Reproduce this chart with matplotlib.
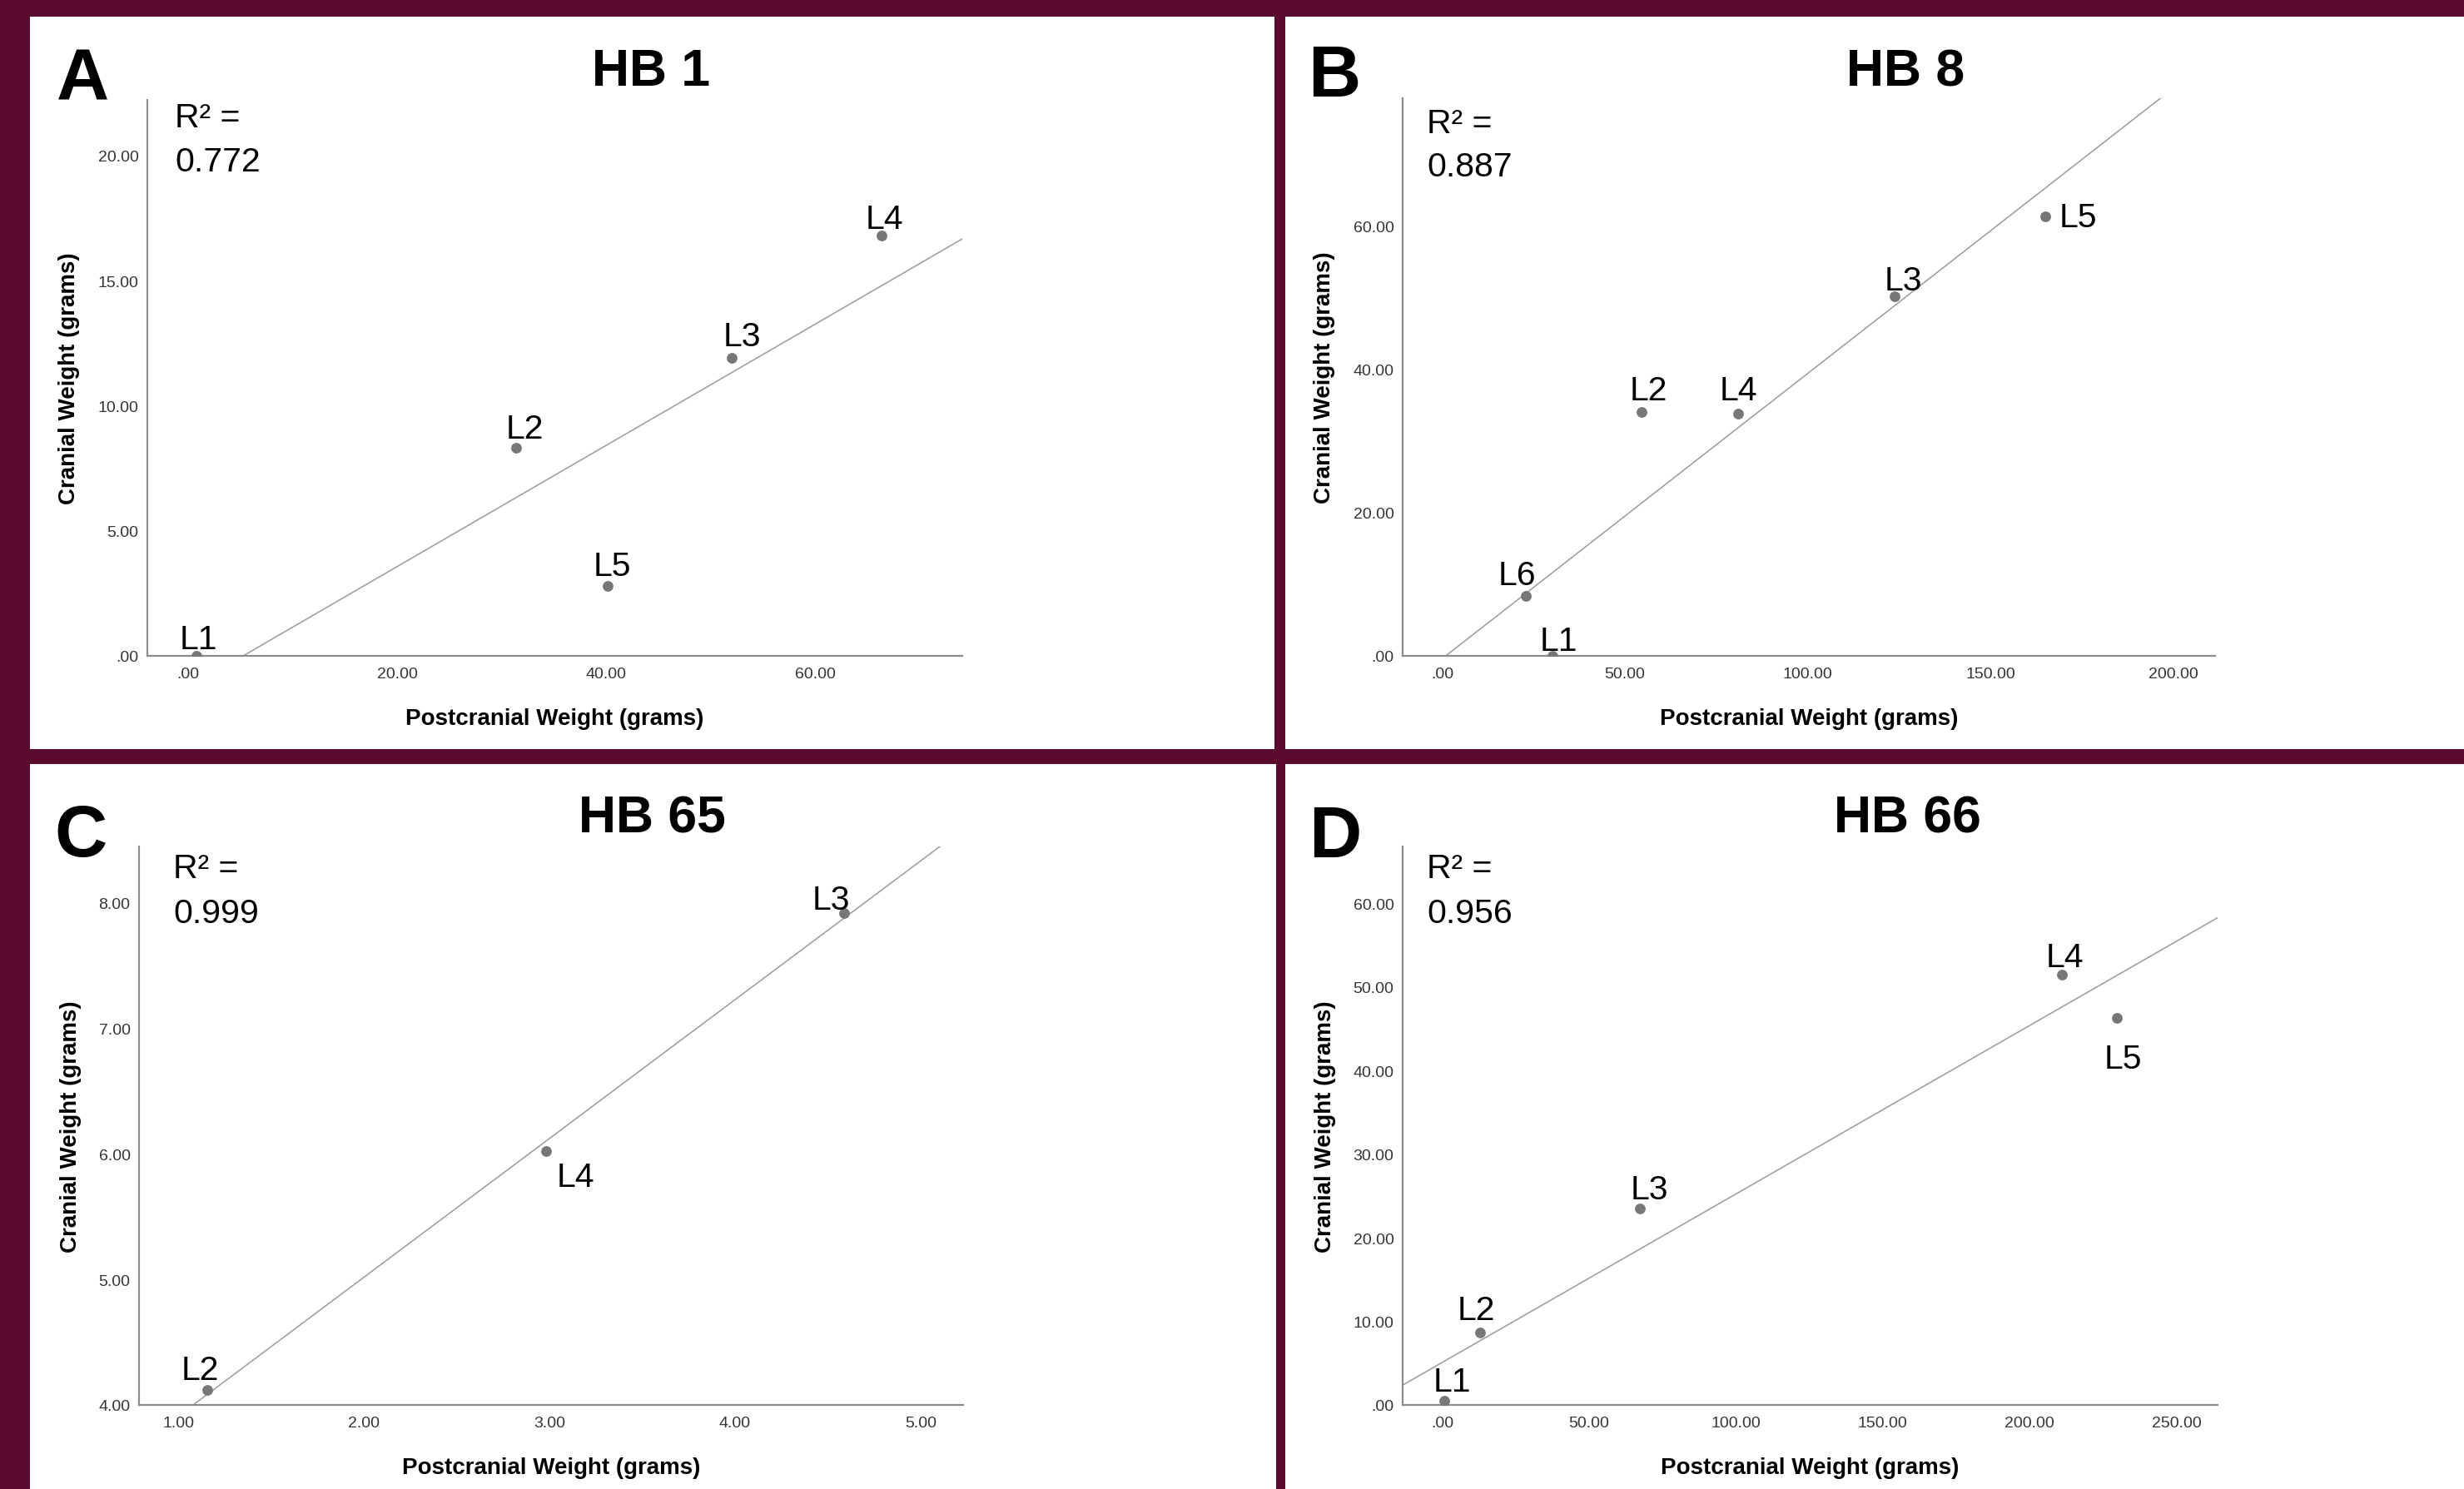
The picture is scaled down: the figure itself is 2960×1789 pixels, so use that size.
import numpy as np
import matplotlib
matplotlib.use("Agg")
import matplotlib.pyplot as plt
from matplotlib.patches import Rectangle

plt.rcParams['font.family'] = ['Liberation Sans', 'DejaVu Sans']

# ------------------------------------------------------------------ data
hb1_labels = ['L1', 'L2', 'L3', 'L4', 'L5']
hb1_post = [0.8, 31.4, 52.0, 66.3, 40.1]
hb1_cran = [0.0, 8.3, 11.9, 16.8, 2.8]
hb1_r2 = '0.772'
hb1_xticks = [0, 20, 40, 60]
hb1_xticklabels = ['.00', '20.00', '40.00', '60.00']
hb1_yticks = [0, 5, 10, 15, 20]
hb1_yticklabels = ['.00', '5.00', '10.00', '15.00', '20.00']

hb8_labels = ['L1', 'L2', 'L3', 'L4', 'L5', 'L6']
hb8_post = [30.1, 54.6, 123.8, 81.0, 164.9, 23.0]
hb8_cran = [0.0, 34.1, 50.2, 33.8, 61.4, 8.4]
hb8_r2 = '0.887'
hb8_xticks = [0, 50, 100, 150, 200]
hb8_xticklabels = ['.00', '50.00', '100.00', '150.00', '200.00']
hb8_yticks = [0, 20, 40, 60]
hb8_yticklabels = ['.00', '20.00', '40.00', '60.00']

hb65_labels = ['L2', 'L3', 'L4']
hb65_post = [1.155, 4.586, 2.98]
hb65_cran = [4.12, 7.92, 6.02]
hb65_r2 = '0.999'
hb65_xticks = [1, 2, 3, 4, 5]
hb65_xticklabels = ['1.00', '2.00', '3.00', '4.00', '5.00']
hb65_yticks = [4, 5, 6, 7, 8]
hb65_yticklabels = ['4.00', '5.00', '6.00', '7.00', '8.00']

hb66_labels = ['L1', 'L2', 'L3', 'L4', 'L5']
hb66_post = [0.6, 12.9, 67.3, 211.0, 229.6]
hb66_cran = [0.5, 8.7, 23.5, 51.5, 46.3]
hb66_r2 = '0.956'
hb66_xticks = [0, 50, 100, 150, 200, 250]
hb66_xticklabels = ['.00', '50.00', '100.00', '150.00', '200.00', '250.00']
hb66_yticks = [0, 10, 20, 30, 40, 50, 60]
hb66_yticklabels = ['.00', '10.00', '20.00', '30.00', '40.00', '50.00', '60.00']

x_title = 'Postcranial Weight (grams)'
y_title = 'Cranial Weight (grams)'

# ------------------------------------------------------------------ layout / style
W, H, DPI = 2960, 1790, 100
MAROON = '#5B0B2E'
DOT = '#777777'
LINE = '#9e9e9e'
AXIS = '#8c8c8c'
TICKC = '#353535'


def fx(x):
    return x / W


def fy(y):
    return 1 - y / H


panel_rects = [(36, 21, 1531, 901), (1544, 21, 2960, 901),
               (36, 919, 1533, 1790), (1544, 919, 2960, 1790)]

panels = [
    dict(letter='A', title='HB 1', labels=hb1_labels, x=hb1_post, y=hb1_cran, r2=hb1_r2,
         xt=hb1_xticks, xtl=hb1_xticklabels, yt=hb1_yticks, ytl=hb1_yticklabels,
         box=(177, 121, 1156, 789), xlim=(-3.9, 74.05), ylim=(0, 22.22),
         title_xy=(782, 103), letter_xy=(68, 119), r2_xy=(210, 153, 206), ylab_x=90.5,
         offs=[(2, -9, 'center'), (10, -12.5, 'center'), (12, -15.7, 'center'),
               (4, -8.7, 'center'), (6, -12.7, 'center')]),
    dict(letter='B', title='HB 8', labels=hb8_labels, x=hb8_post, y=hb8_cran, r2=hb8_r2,
         xt=hb8_xticks, xtl=hb8_xticklabels, yt=hb8_yticks, ytl=hb8_yticklabels,
         box=(1685, 119, 2661, 789), xlim=(-10.8, 211.4), ylim=(0, 77.9),
         title_xy=(2289, 103), letter_xy=(1571, 116), r2_xy=(1714, 159.6, 211.8), ylab_x=1597.5,
         offs=[(8, -6.6, 'center'), (8, -14.5, 'center'), (10, -8.7, 'center'),
               (0, -17.4, 'center'), (17, 12, 'left'), (-11, -14, 'center')]),
    dict(letter='C', title='HB 65', labels=hb65_labels, x=hb65_post, y=hb65_cran, r2=hb65_r2,
         xt=hb65_xticks, xtl=hb65_xticklabels, yt=hb65_yticks, ytl=hb65_yticklabels,
         box=(167, 1018, 1157, 1689), xlim=(0.789, 5.229), ylim=(4.0, 8.45),
         title_xy=(783, 1001), letter_xy=(65, 1029), r2_xy=(208, 1055, 1109), ylab_x=92,
         offs=[(-8, -13, 'center'), (-15, -5, 'center'), (36, 42, 'center')]),
    dict(letter='D', title='HB 66', labels=hb66_labels, x=hb66_post, y=hb66_cran, r2=hb66_r2,
         xt=hb66_xticks, xtl=hb66_xticklabels, yt=hb66_yticks, ytl=hb66_yticklabels,
         box=(1685, 1018, 2664, 1689), xlim=(-13.5, 264.0), ylim=(0, 66.8),
         title_xy=(2291, 1001), letter_xy=(1572, 1030), r2_xy=(1714, 1055, 1109), ylab_x=1598.5,
         offs=[(10, -11.5, 'center'), (-5, -15.5, 'center'), (11, -12, 'center'),
               (3, -10, 'center'), (8, 60, 'center')]),
]

fig = plt.figure(figsize=(W / DPI, H / DPI), dpi=DPI, facecolor=MAROON)

for (x0, y0, x1, y1) in panel_rects:
    fig.add_artist(Rectangle((fx(x0), fy(y1)), fx(x1) - fx(x0), fy(y0) - fy(y1),
                             transform=fig.transFigure, facecolor='white',
                             edgecolor='none', zorder=-10))

for p in panels:
    l, t, r, b = p['box']
    ax = fig.add_axes([fx(l), fy(b), (r - l) / W, (b - t) / H])
    ax.set_facecolor('none')
    x = np.array(p['x'], dtype=float)
    y = np.array(p['y'], dtype=float)

    slope, intercept = np.polyfit(x, y, 1)
    xs = np.array(p['xlim'])
    ax.plot(xs, slope * xs + intercept, color=LINE, lw=1.15, zorder=2)
    ax.scatter(x, y, s=85, color=DOT, linewidths=0, zorder=3)

    for lab, xi, yi, (dx, dy, ha) in zip(p['labels'], x, y, p['offs']):
        ax.annotate(lab, (xi, yi), xytext=(dx, -dy), textcoords='offset pixels',
                    ha=ha, va='baseline', fontsize=29.5, color='black',
                    annotation_clip=False, zorder=4)

    ax.set_xlim(*p['xlim'])
    ax.set_ylim(*p['ylim'])
    for s in ['top', 'right']:
        ax.spines[s].set_visible(False)
    for s in ['left', 'bottom']:
        ax.spines[s].set_color(AXIS)
        ax.spines[s].set_linewidth(1.6)
    ax.set_xticks(p['xt'], p['xtl'])
    ax.set_yticks(p['yt'], p['ytl'])
    ax.tick_params(axis='both', length=0, labelsize=14, labelcolor=TICKC)
    ax.tick_params(axis='x', pad=9.5)
    ax.tick_params(axis='y', pad=7.5)

    ax.set_xlabel(x_title, fontsize=20, fontweight='bold')
    ax.xaxis.label.set_va('baseline')
    ax.xaxis.set_label_coords(0.5, -82 / (b - t))
    ax.set_ylabel(y_title, fontsize=20, fontweight='bold')
    ax.yaxis.label.set_va('baseline')
    ax.yaxis.set_label_coords((p['ylab_x'] - l) / (r - l), 0.5)

    tx, ty = p['title_xy']
    fig.text(fx(tx), fy(ty), p['title'], ha='center', va='baseline',
             fontsize=45, fontweight='bold')
    lx, ly = p['letter_xy']
    fig.text(fx(lx), fy(ly), p['letter'], ha='left', va='baseline',
             fontsize=63, fontweight='bold')
    rx, ry1, ry2 = p['r2_xy']
    fig.text(fx(rx), fy(ry1), 'R\u00b2 =', ha='left', va='baseline', fontsize=29.5)
    fig.text(fx(rx), fy(ry2), p['r2'], ha='left', va='baseline', fontsize=29.5)

fig.savefig('out.png', dpi=DPI, facecolor=MAROON)
